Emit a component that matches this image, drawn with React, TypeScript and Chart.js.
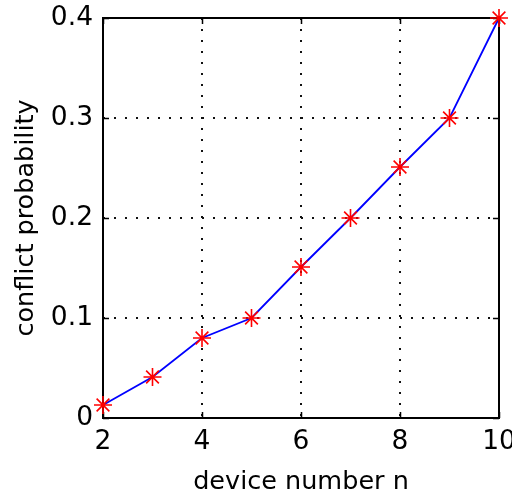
import { useEffect, useRef } from 'react';
import { Chart, registerables } from 'chart.js';

Chart.register(...registerables);

const deviceNumbers = [2, 3, 4, 5, 6, 7, 8, 9, 10];
const conflictProbability = [0.013, 0.041, 0.08, 0.1, 0.151, 0.2, 0.251, 0.3, 0.4];
const xTicks = [2, 4, 6, 8, 10];
const yTicks = [0, 0.1, 0.2, 0.3, 0.4];
const xTitle = 'device number n';
const yTitle = 'conflict probability';

const FONT = 'DejaVu Sans';

const framePlugin = {
  id: 'matlabFrame',
  beforeDatasetsDraw(chart: any) {
    const { ctx, chartArea } = chart;
    const { left, right, top, bottom } = chartArea;
    const xs = chart.scales.x;
    const ys = chart.scales.y;
    const tl = 6;
    ctx.save();
    ctx.strokeStyle = '#000';
    ctx.lineWidth = 1.5;
    ctx.setLineDash([]);
    ctx.beginPath();
    xs.ticks.forEach((t: any) => {
      const p = Math.round(xs.getPixelForValue(t.value)) + 0.5;
      ctx.moveTo(p, bottom);
      ctx.lineTo(p, bottom - tl);
      ctx.moveTo(p, top);
      ctx.lineTo(p, top + tl);
    });
    ys.ticks.forEach((t: any) => {
      const p = Math.round(ys.getPixelForValue(t.value)) + 0.5;
      ctx.moveTo(left, p);
      ctx.lineTo(left + tl, p);
      ctx.moveTo(right, p);
      ctx.lineTo(right - tl, p);
    });
    ctx.stroke();
    ctx.lineWidth = 2;
    ctx.strokeRect(Math.round(left), Math.round(top), Math.round(right - left), Math.round(bottom - top));
    ctx.restore();
  },
};

export default function App() {
  const ref = useRef<HTMLCanvasElement>(null);
  useEffect(() => {
    const chart = new Chart(ref.current!, {
      type: 'line',
      data: {
        datasets: [
          {
            data: deviceNumbers.map((x, i) => ({ x, y: conflictProbability[i] })),
            borderColor: '#0000ff',
            borderWidth: 1.8,
            pointStyle: 'star',
            pointRadius: 9,
            pointBorderColor: '#ff0000',
            pointBackgroundColor: '#ff0000',
            pointBorderWidth: 1.6,
            tension: 0,
            clip: false as any,
          },
        ],
      },
      options: {
        responsive: false,
        animation: false,
        events: [],
        layout: { padding: { top: 18, right: 13, left: 0, bottom: 0 } },
        plugins: { legend: { display: false }, tooltip: { enabled: false } },
        scales: {
          x: {
            type: 'linear',
            min: 2,
            max: 10,
            afterBuildTicks: (s: any) => {
              s.ticks = xTicks.map((v) => ({ value: v }));
            },
            afterFit: (s: any) => {
              s.height = 78;
              s.paddingLeft = 0;
              s.paddingRight = 0;
            },
            grid: { color: '#111', lineWidth: 2, drawTicks: false },
            border: { display: false, dash: [2, 9] },
            ticks: {
              color: '#000',
              font: { family: FONT, size: 26.5, lineHeight: 1.2 },
              padding: 8,
              maxRotation: 0,
              autoSkip: false,
            },
            title: {
              display: true,
              text: xTitle,
              color: '#000',
              font: { family: FONT, size: 25.5, lineHeight: 1 },
              padding: { top: 0, bottom: 1.25 },
            },
          },
          y: {
            type: 'linear',
            min: 0,
            max: 0.4,
            afterBuildTicks: (s: any) => {
              s.ticks = yTicks.map((v) => ({ value: v }));
            },
            afterFit: (s: any) => {
              s.width = 103;
              s.paddingTop = 0;
              s.paddingBottom = 0;
            },
            grid: { color: '#111', lineWidth: 2, drawTicks: false },
            border: { display: false, dash: [2, 9] },
            ticks: {
              color: '#000',
              font: { family: FONT, size: 26.5, lineHeight: 1.2 },
              padding: 10,
              autoSkip: false,
            },
            title: {
              display: true,
              text: yTitle,
              color: '#000',
              font: { family: FONT, size: 25.5, lineHeight: 1 },
              padding: { top: 13.25, bottom: 0 },
            },
          },
        },
      },
      plugins: [framePlugin],
    });
    return () => chart.destroy();
  }, []);
  return (
    <div style={{ position: 'fixed', left: 0, top: 0, width: 512, height: 496, background: '#fff' }}>
      <canvas ref={ref} width={512} height={496} style={{ display: 'block' }} />
    </div>
  );
}
